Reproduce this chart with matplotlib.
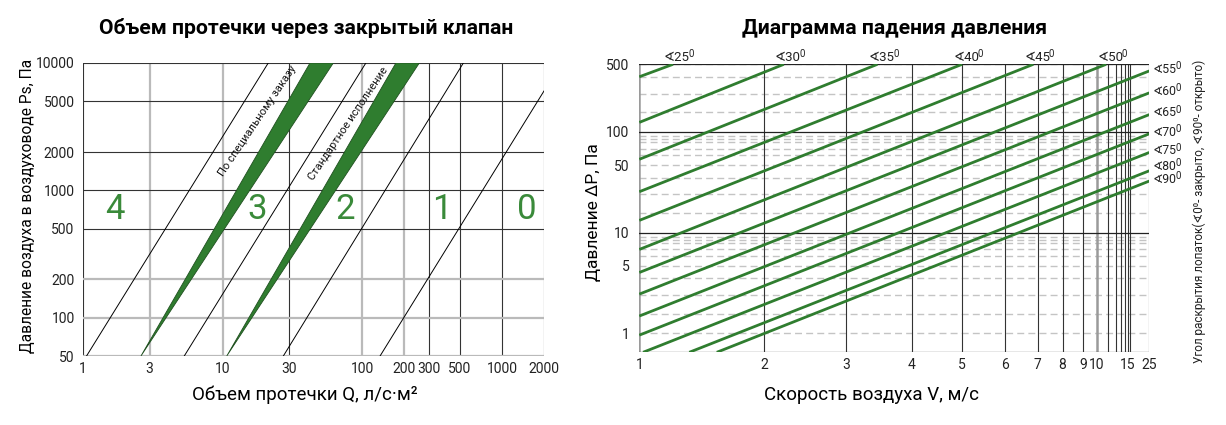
import numpy as np
import matplotlib
matplotlib.use("Agg")
import matplotlib.pyplot as plt
from matplotlib.ticker import FixedLocator, NullLocator

plt.rcParams['font.family'] = ['Roboto', 'DejaVu Sans']

GREEN = '#2f7d2f'
GREEN_DARK = '#1f4f1f'
DARK = '#333333'
LIGHT = '#bababa'

# ---- left chart: leakage through closed damper ----
Q_TICKS = [1, 3, 10, 30, 100, 200, 300, 500, 1000, 2000]
PS_TICKS = [50, 100, 200, 500, 1000, 2000, 5000, 10000]

# thin boundary lines between leakage classes (Q at bottom / top point)
LEAK_Q_START = [1.06, 5.31, 27.2, 134]
LEAK_P_START = [50, 50, 50, 50]
LEAK_Q_END = [21.2, 106, 529, 2000]
LEAK_P_END = [10000, 10000, 10000, 6030]

# green bands: apex at bottom, two edges at top
BAND_APEX_Q = [2.6, 10.7]
BAND_TOP_LEFT_Q = [42.2, 174]
BAND_TOP_RIGHT_Q = [62.0, 256]

CLASS_NAMES = ['4', '3', '2', '1', '0']
CLASS_Q = [1.69, 17.6, 75, 369, 1510]
CLASS_P = [707, 707, 707, 707, 707]

BAND_TEXTS = ['По специальному заказу', 'Стандартное исполнение']
BAND_TEXT_Q = [17.9, 79.4]
BAND_TEXT_P = [3500, 3360]

# ---- right chart: pressure drop ----
V_TICKS = [1, 2, 3, 4, 5, 6, 7, 8, 9, 10, 15, 25]
V_GRID = [1, 2, 3, 4, 5, 6, 7, 8, 9, 10, 11, 12, 13, 14, 15, 20, 25]
DP_TICKS = [1, 5, 10, 50, 100, 500]
DP_GRID_MANT = [1, 2, 3, 4, 5, 6, 7, 8, 8.5, 9]

ANGLES = [25, 30, 35, 40, 45, 50, 55, 60, 65, 70, 75, 80, 90]
LINE_V_START = [1, 1, 1, 1, 1, 1, 1, 1, 1, 1, 1.03, 1.40, 1.62]
LINE_P_START = [400, 148, 55.8, 31.5, 16.2, 7.0, 4.46, 3.05, 1.88, 0.958, 0.667, 0.667, 0.667]
LINE_V_END = [1.27, 2.24, 3.48, 5.0, 6.87, 10.8, 25, 25, 25, 25, 25, 25, 25]
LINE_P_END = [500, 500, 500, 500, 500, 500, 447, 304, 188, 95.6, 64.2, 45.4, 37.9]

# hand-drawn axis of the original: where the grid values sit along the axis
V_SCALE_VAL = [1, 2, 3, 4, 5, 6, 7, 8, 9, 10, 11, 12, 13, 14, 15, 20, 25]
V_SCALE_POS = [0, .245, .405, .534, .633, .717, .781, .830, .870, .897,
               .920, .935, .945, .952, .958, .962, 1]
DP_SCALE_MANT = [1, 2, 3, 4, 5, 6, 7, 8, 8.5, 9, 10]
DP_SCALE_POS = [0, .194, .38, .546, .67, .768, .832, .894, .926, .955, 1]


def v_fwd(v):
    return np.interp(np.asarray(v, float), V_SCALE_VAL, V_SCALE_POS)


def v_inv(u):
    return np.interp(np.asarray(u, float), V_SCALE_POS, V_SCALE_VAL)


def dp_fwd(p):
    lg = np.log10(np.clip(np.asarray(p, float), 1e-9, None))
    d = np.floor(lg + 1e-12)
    m = 10 ** (lg - d)
    return d + np.interp(m, DP_SCALE_MANT, DP_SCALE_POS)


def dp_inv(u):
    u = np.asarray(u, float)
    d = np.floor(u)
    return 10 ** d * np.interp(u - d, DP_SCALE_POS, DP_SCALE_MANT)


W, H = 1226, 425
fig = plt.figure(figsize=(W / 100, H / 100), dpi=100)


def box(x0, y0, x1, y1):
    return [x0 / W, 1 - y1 / H, (x1 - x0) / W, (y1 - y0) / H]


# ================= left =================
ax1 = fig.add_axes(box(83, 63, 544, 356))
ax1.set_xscale('log')
ax1.set_yscale('log')
ax1.set_xlim(1, 2000)
ax1.set_ylim(50, 10000)
ax1.xaxis.set_major_locator(FixedLocator(Q_TICKS))
ax1.yaxis.set_major_locator(FixedLocator(PS_TICKS))
ax1.set_xticklabels([str(t) for t in Q_TICKS])
ax1.set_yticklabels([str(t) for t in PS_TICKS])
ax1.xaxis.set_minor_locator(NullLocator())
ax1.yaxis.set_minor_locator(NullLocator())
ax1.tick_params(length=0, labelsize=10, colors='#222222')
ax1.tick_params(axis='x', pad=4)
ax1.tick_params(axis='y', pad=6)
for s in ax1.spines.values():
    s.set_visible(False)

light_q = {3, 10, 100, 200}
light_p = {50, 100, 200}
for q in Q_TICKS:
    if q in light_q:
        ax1.axvline(q, color=LIGHT, lw=1.6, zorder=0)
    else:
        ax1.axvline(q, color=DARK, lw=0.8, zorder=0)
for p in PS_TICKS:
    if p in light_p:
        ax1.axhline(p, color=LIGHT, lw=1.6, zorder=0)
    else:
        ax1.axhline(p, color=DARK, lw=0.8, zorder=0)

for q0, p0, q1, p1 in zip(LEAK_Q_START, LEAK_P_START, LEAK_Q_END, LEAK_P_END):
    ax1.plot([q0, q1], [p0, p1], color='black', lw=0.7, zorder=2)

for qa, ql, qr in zip(BAND_APEX_Q, BAND_TOP_LEFT_Q, BAND_TOP_RIGHT_Q):
    ax1.fill([qa, ql, qr], [50, 10000, 10000], facecolor=GREEN,
             edgecolor=GREEN_DARK, lw=0.6, zorder=3)

for name, q, p in zip(CLASS_NAMES, CLASS_Q, CLASS_P):
    ax1.text(q, p, name, fontsize=25, color='#3a8a3a', ha='center', va='center')

for txt, q, p in zip(BAND_TEXTS, BAND_TEXT_Q, BAND_TEXT_P):
    ax1.text(q, p, txt, fontsize=8, rotation=56, rotation_mode='anchor',
             ha='center', va='center', color='#111111')

ax1.set_xlabel('Объем протечки Q, л/с·м²', fontsize=13.5)
ax1.xaxis.set_label_coords((305 - 83) / 461, (356 - 395) / 293)
ax1.xaxis.label.set_va('center')
ax1.set_ylabel('Давление воздуха в воздуховоде Ps, Па', fontsize=11.2)
ax1.yaxis.set_label_coords((27 - 83) / 461, (356 - 206) / 293)
ax1.yaxis.label.set_va('center')

# ================= right =================
ax2 = fig.add_axes(box(639.3, 64.3, 1149.3, 352.3))
ax2.set_xscale('function', functions=(v_fwd, v_inv))
ax2.set_yscale('function', functions=(dp_fwd, dp_inv))
ax2.set_xlim(1, 25)
ax2.set_ylim(0.667, 500)
ax2.xaxis.set_major_locator(FixedLocator(V_TICKS))
ax2.yaxis.set_major_locator(FixedLocator(DP_TICKS))
ax2.set_xticklabels([str(t) for t in V_TICKS])
ax2.set_yticklabels([str(t) for t in DP_TICKS])
ax2.xaxis.set_minor_locator(NullLocator())
ax2.yaxis.set_minor_locator(NullLocator())
ax2.tick_params(length=0, labelsize=10, colors='#222222')
ax2.tick_params(axis='x', pad=4)
ax2.tick_params(axis='y', pad=7)
for s in ax2.spines.values():
    s.set_visible(False)

for v in V_GRID:
    if v in (1, 10):
        ax2.axvline(v, color='#9a9a9a', lw=1.8, zorder=1)
    else:
        ax2.axvline(v, color=DARK, lw=0.8, zorder=1)

for dec in [1, 10, 100]:
    for m in DP_GRID_MANT:
        p = m * dec
        if p > 500:
            continue
        if m == 1 and dec > 1:
            ax2.axhline(p, color='#222222', lw=0.9, zorder=1)
        else:
            ax2.axhline(p, color='#c4c4c4', lw=1.0, ls=(0, (5, 3)), zorder=0)
ax2.axhline(500, color='#222222', lw=0.9, zorder=1)
ax2.axhline(0.667, color='#444444', lw=0.9, zorder=1)

for a, v0, p0, v1, p1 in zip(ANGLES, LINE_V_START, LINE_P_START, LINE_V_END, LINE_P_END):
    ax2.plot([v0, v1], [p0, p1], color=GREEN, lw=2.0, zorder=3,
             solid_capstyle='butt')
    if v1 < 25:
        t = ax2.annotate(f'∢{a}', (v1, p1), xytext=(-6.5, 0.3), textcoords='offset points',
                         ha='left', va='bottom', fontsize=9.5, color='#222222',
                         annotation_clip=False)
    else:
        # the 80 label sits a little higher so it clears the 90 label
        dy = 3.2 if a == 80 else 1.2
        t = ax2.annotate(f'∢{a}', (v1, p1), xytext=(2.5, dy), textcoords='offset points',
                         ha='left', va='center', fontsize=8.8, color='#222222',
                         annotation_clip=False)
    # superscript "0" after the angle value
    ax2.annotate('0', xy=(1, 1), xycoords=t, xytext=(-1.0, 1.0),
                 textcoords='offset points', ha='left', va='top',
                 fontsize=7, color='#222222', annotation_clip=False)

ax2.set_xlabel('Скорость воздуха V, м/с', fontsize=13.5)
ax2.xaxis.set_label_coords((872 - 639.3) / 510, (352.3 - 395) / 288)
ax2.xaxis.label.set_va('center')
ax2.set_ylabel('Давление ΔP, Па', fontsize=12.5)
ax2.yaxis.set_label_coords((594 - 639.3) / 510, (352.3 - 212) / 288)
ax2.yaxis.label.set_va('center')

fig.text(1199 / W, 1 - 211 / H, 'Угол раскрытия лопаток(∢0⁰- закрыто, ∢90⁰- открыто)',
         rotation=90, fontsize=8.5, ha='center', va='center', color='#222222')

fig.text(306 / W, 1 - 28 / H, 'Объем протечки через закрытый клапан',
         fontsize=15.2, fontweight='bold', ha='center', va='center')
fig.text(895 / W, 1 - 28 / H, 'Диаграмма падения давления',
         fontsize=15.2, fontweight='bold', ha='center', va='center')

fig.savefig('out.png', dpi=100)
